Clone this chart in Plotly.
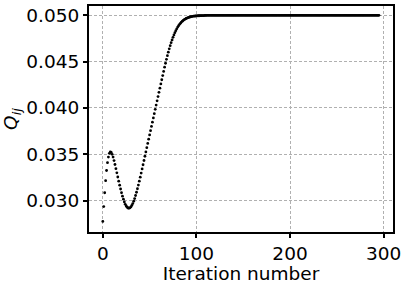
import plotly.graph_objs as go

# iteration index (x) and Q_ij values
iterations = list(range(296))

q_start = [
    0.02775, 0.02935, 0.03085, 0.03215, 0.03325, 0.03410, 0.03470, 0.03510, 0.03525, 0.03520,
    0.03500, 0.03470, 0.03432, 0.03390, 0.03345, 0.03300, 0.03255, 0.03210, 0.03167, 0.03125,
    0.03085, 0.03048, 0.03015, 0.02985, 0.02960, 0.02942, 0.02928, 0.02920, 0.02918, 0.02922,
    0.02932, 0.02948, 0.02968, 0.02993, 0.03022, 0.03055, 0.03090, 0.03128, 0.03168, 0.03210,
    0.03253, 0.03297, 0.03342, 0.03387, 0.03433, 0.03479, 0.03525, 0.03571, 0.03617, 0.03663,
    0.03709, 0.03755, 0.03801, 0.03847, 0.03893, 0.03939, 0.03985, 0.04031, 0.04077, 0.04123,
    0.04169, 0.04214, 0.04260, 0.04305, 0.04350, 0.04395, 0.04440, 0.04483, 0.04525, 0.04565,
    0.04603, 0.04639, 0.04673, 0.04705, 0.04735, 0.04763, 0.04789, 0.04813, 0.04835, 0.04855,
    0.04873, 0.04889, 0.04903, 0.04916, 0.04927, 0.04937, 0.04946, 0.04954, 0.04960, 0.04966,
    0.04971, 0.04975, 0.04979, 0.04982, 0.04985, 0.04987, 0.04989, 0.04991, 0.04992, 0.04993,
    0.04994, 0.04995, 0.04996, 0.04996, 0.04997, 0.04997, 0.04998, 0.04998, 0.04998, 0.04999,
    0.04999,
]

q_plateau = [
    0.05, 0.05, 0.05, 0.05, 0.05, 0.05, 0.05, 0.05, 0.05, 0.05,
    0.05, 0.05, 0.05, 0.05, 0.05, 0.05, 0.05, 0.05, 0.05, 0.05,
    0.05, 0.05, 0.05, 0.05, 0.05, 0.05, 0.05, 0.05, 0.05, 0.05,
    0.05, 0.05, 0.05, 0.05, 0.05, 0.05, 0.05, 0.05, 0.05, 0.05,
    0.05, 0.05, 0.05, 0.05, 0.05, 0.05, 0.05, 0.05, 0.05, 0.05,
    0.05, 0.05, 0.05, 0.05, 0.05, 0.05, 0.05, 0.05, 0.05, 0.05,
    0.05, 0.05, 0.05, 0.05, 0.05, 0.05, 0.05, 0.05, 0.05, 0.05,
    0.05, 0.05, 0.05, 0.05, 0.05, 0.05, 0.05, 0.05, 0.05, 0.05,
    0.05, 0.05, 0.05, 0.05, 0.05, 0.05, 0.05, 0.05, 0.05, 0.05,
    0.05, 0.05, 0.05, 0.05, 0.05, 0.05, 0.05, 0.05, 0.05, 0.05,
    0.05, 0.05, 0.05, 0.05, 0.05, 0.05, 0.05, 0.05, 0.05, 0.05,
    0.05, 0.05, 0.05, 0.05, 0.05, 0.05, 0.05, 0.05, 0.05, 0.05,
    0.05, 0.05, 0.05, 0.05, 0.05, 0.05, 0.05, 0.05, 0.05, 0.05,
    0.05, 0.05, 0.05, 0.05, 0.05, 0.05, 0.05, 0.05, 0.05, 0.05,
    0.05, 0.05, 0.05, 0.05, 0.05, 0.05, 0.05, 0.05, 0.05, 0.05,
    0.05, 0.05, 0.05, 0.05, 0.05, 0.05, 0.05, 0.05, 0.05, 0.05,
    0.05, 0.05, 0.05, 0.05, 0.05, 0.05, 0.05, 0.05, 0.05, 0.05,
    0.05, 0.05, 0.05, 0.05, 0.05, 0.05, 0.05, 0.05, 0.05, 0.05,
    0.05, 0.05, 0.05, 0.05, 0.05,
]

q_values = q_start + q_plateau

fig = go.Figure()

fig.add_trace(go.Scatter(
    x=iterations,
    y=q_values,
    mode='markers',
    marker=dict(color='black', size=2.8),
    showlegend=False
))

axis_common = dict(
    showline=True, linecolor='black', linewidth=2, mirror=True,
    ticks='outside', ticklen=4, tickwidth=1.5, tickcolor='black',
    showgrid=True, gridcolor='#b0b0b0', gridwidth=1, griddash='3px,2px',
    zeroline=False,
    tickfont=dict(family='DejaVu Sans', size=18.5, color='black'),
)

fig.update_layout(
    width=407, height=284,
    margin=dict(l=89, r=14, t=6, b=52),
    plot_bgcolor='white',
    paper_bgcolor='white',
    xaxis=dict(
        range=[-14.75, 310],
        tickvals=[0, 100, 200, 300],
        title=dict(text='Iteration number', standoff=0,
                   font=dict(family='DejaVu Sans', size=18.5, color='black')),
        automargin=False,
        **axis_common
    ),
    yaxis=dict(
        range=[0.02661, 0.05101],
        tickvals=[0.030, 0.035, 0.040, 0.045, 0.050],
        tickformat='.3f',
        title=dict(text='<i>Q</i><sub><i>ij</i></sub>', standoff=6,
                   font=dict(family='DejaVu Sans', size=18.5, color='black')),
        automargin=False,
        **axis_common
    ),
)

# page body has a default 8px margin; drop it so the figure sits at the corner
fig.write_html("out.html",
               config={'displayModeBar': False},
               post_script="document.body.style.margin='0';")
